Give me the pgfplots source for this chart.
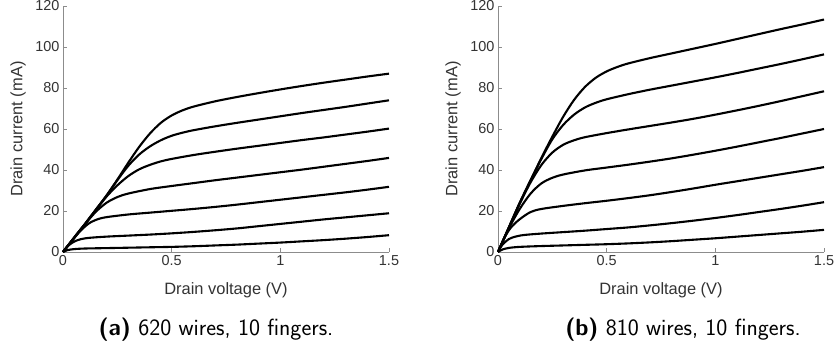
\documentclass[border=0pt]{standalone}
\usepackage{fontspec}
\setmainfont{Liberation Sans}
\usepackage{pgfplots}
\pgfplotsset{compat=1.18}
\definecolor{axgray}{HTML}{8C8C8C}
\definecolor{txtgray}{HTML}{333333}
\pgfplotsset{
  ivstyle/.style={
    scale only axis, width=326bp, height=246bp,
    anchor=south west,
    xmin=0, xmax=1.5, ymin=0, ymax=120,
    axis x line*=bottom, axis y line*=left,
    axis line style={axgray, line width=0.6bp},
    tick style={axgray, line width=0.6bp},
    tick align=inside, major tick length=4bp,
    xtick={0,0.5,1,1.5}, xticklabels={0,0.5,1,1.5},
    ytick={0,20,40,60,80,100,120},
    /pgf/number format/assume math mode=true,
    ticklabel style={font=\fontsize{14.5}{16}\selectfont, text=txtgray},
    xlabel={Drain voltage (V)}, ylabel={Drain current (mA)},
    every axis x label/.style={at={(axis description cs:0.5,-0.155)}, anchor=center, font=\fontsize{16.5}{19}\selectfont, text=txtgray},
    every axis y label/.style={at={(axis description cs:-0.138,0.5)}, rotate=90, anchor=center, font=\fontsize{16.5}{19}\selectfont, text=txtgray},
    clip=false,
    no markers,
    every axis plot post/.append style={black, solid, line width=2.1bp, smooth, mark=none},
  }
}
\begin{document}
\begin{tikzpicture}[x=1bp,y=1bp]
\useasboundingbox (0,0) rectangle (835,350);
\begin{axis}[ivstyle, at={(63bp,98bp)}]
\addplot coordinates {(0,0)(0.05,6.8)(0.1,13.5)(0.15,20.5)(0.2,27.5)(0.25,35.3)(0.3,43.5)(0.35,51.2)(0.4,57.8)(0.45,63)(0.5,66.6)(0.55,69.1)(0.6,70.9)(0.7,73.5)(0.8,75.6)(0.9,77.5)(1.0,79.3)(1.1,81)(1.2,82.6)(1.3,84.1)(1.4,85.6)(1.5,87)};
\addplot coordinates {(0,0)(0.05,6.8)(0.1,13.5)(0.15,20.5)(0.2,27.5)(0.25,35)(0.3,42)(0.35,47.5)(0.4,51.5)(0.45,54.5)(0.5,56.7)(0.55,58.2)(0.6,59.4)(0.7,61.3)(0.8,63)(0.9,64.6)(1.0,66.2)(1.1,67.8)(1.2,69.3)(1.3,70.8)(1.4,72.4)(1.5,74)};
\addplot coordinates {(0,0)(0.05,6.8)(0.1,13.5)(0.15,20.3)(0.2,27)(0.25,32.5)(0.3,37)(0.35,40.3)(0.4,42.5)(0.45,44.2)(0.5,45.4)(0.6,47.3)(0.7,48.9)(0.8,50.4)(0.9,51.8)(1.0,53.2)(1.1,54.6)(1.2,55.9)(1.3,57.3)(1.4,58.7)(1.5,60.2)};
\addplot coordinates {(0,0)(0.05,6.8)(0.1,13.4)(0.15,19.5)(0.2,24)(0.25,26.8)(0.3,28.5)(0.4,30.7)(0.5,32.2)(0.6,33.6)(0.7,35)(0.8,36.3)(0.9,37.6)(1.0,38.9)(1.1,40.2)(1.2,41.6)(1.3,43)(1.4,44.4)(1.5,45.9)};
\addplot coordinates {(0,0)(0.04,5.3)(0.08,10.3)(0.12,14)(0.16,16)(0.2,17)(0.3,18.3)(0.4,19.2)(0.5,20.1)(0.6,21)(0.7,22)(0.8,23.1)(0.9,24.3)(1.0,25.5)(1.1,26.7)(1.2,27.9)(1.3,29.1)(1.4,30.4)(1.5,31.8)};
\addplot coordinates {(0,0)(0.02,2.7)(0.05,5)(0.08,6.2)(0.12,6.9)(0.2,7.5)(0.3,8)(0.4,8.5)(0.5,9.1)(0.6,9.8)(0.7,10.6)(0.8,11.5)(0.9,12.6)(1.0,13.7)(1.1,14.8)(1.2,15.9)(1.3,16.9)(1.4,17.9)(1.5,18.9)};
\addplot coordinates {(0,0)(0.02,0.9)(0.05,1.4)(0.1,1.7)(0.2,1.9)(0.3,2.1)(0.4,2.3)(0.5,2.5)(0.6,2.8)(0.7,3.2)(0.8,3.6)(0.9,4.1)(1.0,4.6)(1.1,5.2)(1.2,5.8)(1.3,6.5)(1.4,7.3)(1.5,8.2)};
\end{axis}
\begin{axis}[ivstyle, at={(498bp,98bp)}]
\addplot coordinates {(0,0)(0.05,12)(0.1,24)(0.15,35)(0.2,46)(0.25,56.3)(0.3,66)(0.35,74.2)(0.4,80.5)(0.45,85)(0.5,88.1)(0.55,90.3)(0.6,92)(0.7,94.6)(0.8,96.9)(0.9,99.2)(1.0,101.5)(1.1,103.9)(1.2,106.3)(1.3,108.7)(1.4,111)(1.5,113.4)};
\addplot coordinates {(0,0)(0.05,12)(0.1,24)(0.15,35)(0.2,45.5)(0.25,55)(0.3,62)(0.35,67)(0.4,70.5)(0.45,72.8)(0.5,74.5)(0.6,77)(0.7,79.2)(0.8,81.2)(0.9,83.2)(1.0,85.2)(1.1,87.3)(1.2,89.5)(1.3,91.7)(1.4,94)(1.5,96.4)};
\addplot coordinates {(0,0)(0.05,12)(0.1,23.5)(0.15,34)(0.2,42.5)(0.25,48.5)(0.3,52.3)(0.35,54.5)(0.4,56)(0.5,58)(0.6,59.8)(0.7,61.5)(0.8,63.2)(0.9,65)(1.0,67)(1.1,69.1)(1.2,71.3)(1.3,73.6)(1.4,76)(1.5,78.4)};
\addplot coordinates {(0,0)(0.05,11.5)(0.1,21)(0.15,28.5)(0.2,33.5)(0.25,36.2)(0.3,37.8)(0.4,39.8)(0.5,41.2)(0.6,42.6)(0.7,44.1)(0.8,45.7)(0.9,47.5)(1.0,49.4)(1.1,51.4)(1.2,53.5)(1.3,55.6)(1.4,57.8)(1.5,60)};
\addplot coordinates {(0,0)(0.03,7)(0.06,12)(0.1,16)(0.15,19.5)(0.2,21)(0.3,22.5)(0.4,23.8)(0.5,25)(0.6,26.3)(0.7,27.7)(0.8,29.3)(0.9,31)(1.0,32.8)(1.1,34.5)(1.2,36.2)(1.3,37.9)(1.4,39.6)(1.5,41.4)};
\addplot coordinates {(0,0)(0.02,3.5)(0.05,6.3)(0.08,7.5)(0.12,8.3)(0.2,9)(0.3,9.7)(0.4,10.4)(0.5,11.2)(0.6,12)(0.7,13)(0.8,14.1)(0.9,15.3)(1.0,16.6)(1.1,18)(1.2,19.5)(1.3,21)(1.4,22.6)(1.5,24.3)};
\addplot coordinates {(0,0)(0.02,1.2)(0.05,2)(0.1,2.5)(0.2,2.9)(0.3,3.2)(0.4,3.5)(0.5,3.8)(0.6,4.2)(0.7,4.7)(0.8,5.3)(0.9,6)(1.0,6.7)(1.1,7.5)(1.2,8.3)(1.3,9.1)(1.4,9.9)(1.5,10.8)};
\end{axis}
\node[font=\sffamily\fontsize{23.5}{27}\selectfont, anchor=center] at (216,20) {\textbf{(a)} 620 wires, 10 fingers.};
\node[font=\sffamily\fontsize{23.5}{27}\selectfont, anchor=center] at (683,20) {\textbf{(b)} 810 wires, 10 fingers.};
\end{tikzpicture}
\end{document}
